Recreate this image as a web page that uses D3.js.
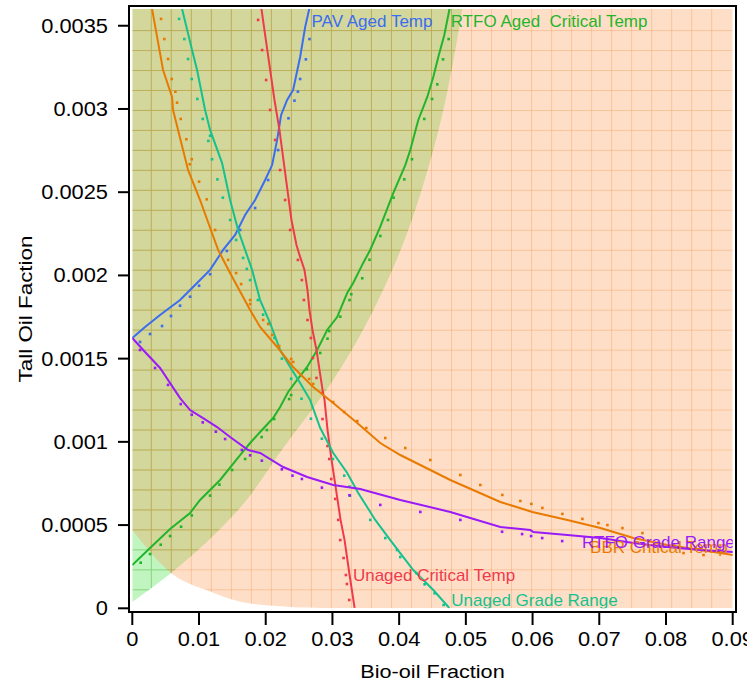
<!DOCTYPE html>
<html><head><meta charset="utf-8">
<script src="https://cdn.jsdelivr.net/npm/d3@7"></script>
<style>body{margin:0;background:#fff}svg{display:block}text{font-family:"Liberation Sans",Arial,sans-serif;white-space:pre}</style>
</head><body>
<script>
// ---- axis ticks ----
const xTicks = [0,0.01,0.02,0.03,0.04,0.05,0.06,0.07,0.08,0.09];
const xTickLabels = ["0","0.01","0.02","0.03","0.04","0.05","0.06","0.07","0.08","0.09"];
const yTicks = [0,0.0005,0.001,0.0015,0.002,0.0025,0.003,0.0035];
const yTickLabels = ["0","0.0005","0.001","0.0015","0.002","0.0025","0.003","0.0035"];
const xTitle = "Bio-oil Fraction";
const yTitle = "Tall Oil Faction";

// ---- feasible regions ----
const greenBoundary = [[0,0.000038],[0.00581,0.000212],[0.01586,0.00059],[0.02262,0.000963],[0.03012,0.001372],[0.03897,0.002033],[0.04512,0.002753],[0.04947,0.003601]];
const peachBoundary = [[0,0.00047],[0.00581,0.000212],[0.01185,0.0000978],[0.01635,0.0000378],[0.0237,0.0000078],[0.0297,0]];

// ---- series (fitted lines) ----
const pavLine = [[0,0.001624],[0.00191,0.00169],[0.00416,0.001762],[0.00716,0.001852],[0.00866,0.001912],[0.01016,0.001972],[0.01166,0.002033],[0.01361,0.002153],[0.01541,0.002243],[0.01691,0.002363],[0.01841,0.002453],[0.01991,0.002573],[0.02096,0.002663],[0.02171,0.002814],[0.02231,0.002964],[0.02321,0.003054],[0.02411,0.003114],[0.02516,0.003312],[0.02591,0.003492],[0.02666,0.003625]];
const rtfoAgedLine = [[0,0.00026],[0.00266,0.000362],[0.00566,0.000476],[0.00866,0.000573],[0.01016,0.000651],[0.01166,0.000711],[0.01316,0.000771],[0.01616,0.000921],[0.01766,0.000993],[0.01916,0.001059],[0.02111,0.001143],[0.02216,0.001209],[0.02336,0.0013],[0.02471,0.001372],[0.02621,0.00145],[0.02771,0.001552],[0.02921,0.001672],[0.03071,0.00175],[0.03221,0.001894],[0.03311,0.001954],[0.03461,0.002075],[0.03566,0.002153],[0.03716,0.002291],[0.03912,0.002495],[0.04092,0.002663],[0.04167,0.002753],[0.04287,0.002934],[0.04422,0.003072],[0.04512,0.003192],[0.04587,0.003312],[0.04677,0.003444],[0.04752,0.003595],[0.04782,0.003643]];
const unagedTempLine = [[0.01936,0.003601],[0.01981,0.003474],[0.02056,0.003264],[0.02131,0.003054],[0.02206,0.002874],[0.02266,0.002693],[0.02326,0.002513],[0.02386,0.002333],[0.02461,0.002183],[0.02506,0.002123],[0.02581,0.002033],[0.02626,0.001912],[0.02656,0.001792],[0.02701,0.001672],[0.02761,0.001552],[0.02806,0.001432],[0.02852,0.001312],[0.02882,0.001251],[0.02927,0.001071],[0.02987,0.000891],[0.03032,0.000771],[0.03077,0.000651],[0.03122,0.000531],[0.03182,0.00041],[0.03257,0.0002],[0.03332,0.000002]];
const unagedGradeLine = [[0.00746,0.003601],[0.00896,0.003354],[0.00971,0.003234],[0.01091,0.002994],[0.01166,0.002874],[0.01346,0.002675],[0.01466,0.002453],[0.01586,0.002273],[0.01691,0.002153],[0.01796,0.002033],[0.01916,0.001852],[0.02066,0.001714],[0.02216,0.001552],[0.02366,0.00145],[0.02516,0.001354],[0.02666,0.001251],[0.02817,0.001083],[0.03012,0.000933],[0.03222,0.000813],[0.03387,0.000693],[0.03642,0.000531],[0.03867,0.00041],[0.04212,0.00023],[0.04512,0.00011],[0.04752,0.000002]];
const bbrLine = [[0.00296,0.003601],[0.00461,0.003234],[0.00596,0.003072],[0.00611,0.002994],[0.00836,0.002633],[0.01016,0.002453],[0.01286,0.002153],[0.01466,0.002014],[0.01766,0.001792],[0.01916,0.00169],[0.02171,0.00157],[0.02411,0.00145],[0.02712,0.00133],[0.03012,0.001233],[0.03372,0.001113],[0.03717,0.000993],[0.04017,0.000921],[0.04767,0.000771],[0.05517,0.000639],[0.05997,0.000579],[0.06522,0.000531],[0.07017,0.000482],[0.07512,0.000422],[0.08022,0.00038],[0.08518,0.00035],[0.09013,0.00032]];
const rtfoGradeLine = [[0,0.001624],[0.00191,0.00154],[0.00416,0.001444],[0.00716,0.001263],[0.00866,0.001191],[0.01061,0.001143],[0.01271,0.001089],[0.01466,0.001029],[0.01736,0.000951],[0.01916,0.000933],[0.02261,0.000849],[0.02621,0.000789],[0.03012,0.000741],[0.03417,0.000717],[0.04017,0.000651],[0.04767,0.000579],[0.05517,0.000488],[0.05967,0.00047],[0.06012,0.000458],[0.06522,0.00044],[0.07017,0.000422],[0.07512,0.000392],[0.08022,0.000368],[0.08518,0.00035],[0.09013,0.000338]];

// ---- series (observed points) ----
const pavDots = [[0.00116,0.0016],[0.00266,0.001648],[0.00446,0.001696],[0.0058,0.001756],[0.00716,0.001818],[0.00866,0.001872],[0.01001,0.001938],[0.01166,0.002007],[0.01417,0.002147],[0.01616,0.002273],[0.01841,0.002405],[0.02036,0.002573],[0.02186,0.002753],[0.02341,0.002944],[0.02431,0.00305],[0.02482,0.003104],[0.02516,0.00318],[0.02602,0.003298],[0.02656,0.00342]];
const rtfoAgedDots = [[0.00126,0.000274],[0.00266,0.000326],[0.00426,0.000382],[0.00566,0.000434],[0.00731,0.00049],[0.00891,0.000558],[0.01166,0.000677],[0.01306,0.000743],[0.01496,0.000831],[0.01691,0.000897],[0.01939,0.001029],[0.02017,0.001071],[0.02126,0.001137],[0.02351,0.001257],[0.02381,0.001281],[0.02617,0.001436],[0.02817,0.001534],[0.02926,0.00162],[0.02952,0.001666],[0.03117,0.001752],[0.03256,0.001852],[0.03282,0.001887],[0.03447,0.001983],[0.03556,0.002094],[0.03717,0.002237],[0.03833,0.002333],[0.03917,0.002467],[0.04077,0.002577],[0.04193,0.002698],[0.04377,0.00294],[0.04493,0.00306],[0.04572,0.003148],[0.04658,0.003298],[0.04742,0.00342]];
const unagedTempDots = [[0.01886,0.003535],[0.01946,0.003354],[0.02006,0.003174],[0.02066,0.002994],[0.02141,0.002814],[0.02216,0.002633],[0.02291,0.002453],[0.02366,0.002273],[0.02482,0.002093],[0.02542,0.001972],[0.02572,0.001852],[0.02626,0.001732],[0.02677,0.001624],[0.02707,0.001504],[0.02761,0.001384],[0.02847,0.001294],[0.02851,0.001137],[0.02926,0.000975],[0.02952,0.000897],[0.02982,0.000777],[0.03042,0.000657],[0.03087,0.000531],[0.03117,0.00041],[0.03167,0.000302],[0.03202,0.0002],[0.03217,0.000146],[0.03252,0.00005]];
const unagedGradeDots = [[0.00701,0.003541],[0.0078,0.00342],[0.00836,0.0033],[0.00891,0.00318],[0.00975,0.00306],[0.01056,0.00294],[0.01166,0.002839],[0.0114,0.002808],[0.01196,0.002698],[0.01276,0.002577],[0.01357,0.002467],[0.01466,0.002333],[0.01556,0.002213],[0.01661,0.002105],[0.01717,0.002039],[0.01766,0.001972],[0.01882,0.001852],[0.01961,0.001764],[0.02047,0.00171],[0.02131,0.001624],[0.02242,0.0015],[0.02381,0.001379],[0.02536,0.001259],[0.02677,0.001139],[0.02842,0.001019],[0.03007,0.000897],[0.03177,0.000797],[0.03256,0.000731],[0.03262,0.000677],[0.03567,0.000531],[0.03792,0.000422],[0.03968,0.00035],[0.04017,0.000308],[0.04257,0.000212],[0.04382,0.000144],[0.04532,0.00009],[0.04667,0.00002]];
const bbrDots = [[0.00431,0.003541],[0.0048,0.00342],[0.00536,0.0033],[0.00591,0.00318],[0.00645,0.003104],[0.00671,0.003038],[0.00726,0.00294],[0.0081,0.002818],[0.00891,0.002698],[0.00861,0.002668],[0.01001,0.002563],[0.01116,0.002457],[0.01241,0.002273],[0.01436,0.002093],[0.01556,0.002014],[0.01631,0.001948],[0.01766,0.001852],[0.01766,0.001828],[0.01961,0.001732],[0.02036,0.001708],[0.02096,0.001642],[0.02201,0.001576],[0.02381,0.001498],[0.02411,0.00148],[0.02652,0.001378],[0.02712,0.001348],[0.03012,0.001239],[0.03177,0.001179],[0.03372,0.001125],[0.03507,0.001083],[0.03792,0.001023],[0.04092,0.000963],[0.04467,0.000891],[0.04917,0.000801],[0.05217,0.000741],[0.05547,0.000681],[0.05817,0.000645],[0.05982,0.000627],[0.06147,0.000603],[0.06447,0.000567],[0.06747,0.000537],[0.06987,0.000512],[0.07122,0.0005],[0.07347,0.000482],[0.07647,0.000452],[0.08263,0.000332],[0.08563,0.00032]];
const rtfoGradeDots = [[0.00116,0.001552],[0.00341,0.001444],[0.00536,0.001342],[0.00726,0.001227],[0.00891,0.001163],[0.01056,0.001117],[0.01252,0.001061],[0.01391,0.001017],[0.01642,0.000951],[0.01766,0.000919],[0.01942,0.000887],[0.02242,0.000835],[0.02401,0.000797],[0.02542,0.000777],[0.02842,0.000725],[0.03256,0.000679],[0.03717,0.000621],[0.04317,0.000579],[0.04917,0.000531],[0.05543,0.00046],[0.05843,0.000446],[0.05978,0.000434],[0.06144,0.000422],[0.06444,0.000404]];

const series = [
  {name:"PAV Aged Temp", line:pavLine, dots:pavDots, color:"#3a6df0", label:[0.02686,0.00349]},
  {name:"RTFO Aged  Critical Temp", line:rtfoAgedLine, dots:rtfoAgedDots, color:"#22b52a", label:[0.04772,0.00349]},
  {name:"Unaged Critical Temp", line:unagedTempLine, dots:unagedTempDots, color:"#f03a4a", label:[0.03307,0.000165]},
  {name:"Unaged Grade Range", line:unagedGradeLine, dots:unagedGradeDots, color:"#14c28e", label:[0.04782,0.000015]},
  {name:"BBR Critical Temp", line:bbrLine, dots:bbrDots, color:"#e97a00", label:[0.06862,0.00033]},
  {name:"RTFO Grade Range", line:rtfoGradeLine, dots:rtfoGradeDots, color:"#9a1af8", label:[0.06742,0.00036]}
];

const W = 747, H = 688;
const x = d3.scaleLinear().domain([0,0.09]).range([132.3,732.7]);
const y = d3.scaleLinear().domain([0,0.0036]).range([608.3,9.1]);
const svg = d3.select("body").append("svg").attr("width",W).attr("height",H);
const defs = svg.append("defs");
defs.append("clipPath").attr("id","plotclip").append("rect")
  .attr("x",x(0)).attr("y",y(0.0036)).attr("width",x(0.09)-x(0)).attr("height",y(0)-y(0.0036));

const [x0,x1] = x.domain(), [y0,y1] = y.domain();
const boundaryLine = d3.line().x(d=>x(d[0])).y(d=>y(d[1])).curve(d3.curveMonotoneY);
const gPts = greenBoundary;
const greenPath = "M" + x(x0) + "," + y(y1) + "L" + x(x0) + "," + y(gPts[0][1]) +
   boundaryLine(gPts).replace(/^M/,"L") + "L" + x(gPts[gPts.length-1][0]) + "," + y(y1) + "Z";
const pLine = d3.line().x(d=>x(d[0])).y(d=>y(d[1])).curve(d3.curveMonotoneX);
const peachPath = "M" + x(x0) + "," + y(y1) + pLine(peachBoundary).replace(/^M/,"L") +
   "L" + x(x1) + "," + y(y0) + "L" + x(x1) + "," + y(y1) + "Z";

defs.append("clipPath").attr("id","greenclip").append("path").attr("d",greenPath);
defs.append("clipPath").attr("id","peachclip").append("path").attr("d",peachPath);

const plot = svg.append("g").attr("clip-path","url(#plotclip)");
const gridX = d3.range(1,30).map(k=>k*0.003);
const gridY = d3.range(1,30).map(k=>k*0.00012);
function grid(g, color){
  g.selectAll("line.v").data(gridX).join("line").attr("x1",d=>x(d)-1).attr("x2",d=>x(d)-1)
    .attr("y1",y(y1)).attr("y2",y(y0)).attr("stroke",color).attr("stroke-width",1);
  g.selectAll("line.h").data(gridY).join("line").attr("y1",d=>y(d)+1.5).attr("y2",d=>y(d)+1.5)
    .attr("x1",x(x0)).attr("x2",x(x1)).attr("stroke",color).attr("stroke-width",1);
}
plot.append("path").attr("d",greenPath).attr("fill","rgb(192,245,192)");
grid(plot.append("g").attr("clip-path","url(#greenclip)"), "rgb(135,212,125)");
plot.append("path").attr("d",peachPath).attr("fill","rgb(255,145,72)").attr("opacity",0.3);
grid(plot.append("g").attr("clip-path","url(#peachclip)"), "rgba(235,140,50,0.3)");

const line = d3.line().x(d=>x(d[0])).y(d=>y(d[1]));
series.forEach(s=>{
  plot.append("path").attr("d",line(s.line)).attr("fill","none").attr("stroke",s.color).attr("stroke-width",2);
  plot.append("g").selectAll("rect").data(s.dots).join("rect")
    .attr("x",d=>x(d[0])-1.3).attr("y",d=>y(d[1])-1.3).attr("width",2.6).attr("height",2.6).attr("fill",s.color);
});
series.forEach(s=>{
  plot.append("text").attr("x",x(s.label[0])).attr("y",y(s.label[1])).attr("fill",s.color)
    .attr("font-size",17).text(s.name);
});

// frame
svg.append("rect").attr("x",129).attr("y",6).attr("width",607).attr("height",606)
  .attr("fill","none").attr("stroke","#000").attr("stroke-width",2);

const ya = svg.append("g");
yTicks.forEach((v,i)=>{
  ya.append("line").attr("x1",118).attr("x2",129).attr("y1",y(v)).attr("y2",y(v)).attr("stroke","#000").attr("stroke-width",2);
  ya.append("text").attr("transform",`translate(108,${y(v)+7}) scale(1.12,1)`).attr("text-anchor","end")
    .attr("font-size",19.5).text(yTickLabels[i]);
});
const xa = svg.append("g");
xTicks.forEach((v,i)=>{
  xa.append("line").attr("x1",x(v)).attr("x2",x(v)).attr("y1",612).attr("y2",625).attr("stroke","#000").attr("stroke-width",2);
  xa.append("text").attr("transform",`translate(${x(v)},646) scale(1.12,1)`).attr("text-anchor","middle")
    .attr("font-size",19.5).text(xTickLabels[i]);
});
svg.append("text").attr("transform","translate(432.5,678) scale(1.14,1)").attr("text-anchor","middle").attr("font-size",19).text(xTitle);
svg.append("text").attr("transform","translate(32,309) rotate(-90) scale(1.18,1)").attr("text-anchor","middle").attr("font-size",19).text(yTitle);
</script>
</body></html>
